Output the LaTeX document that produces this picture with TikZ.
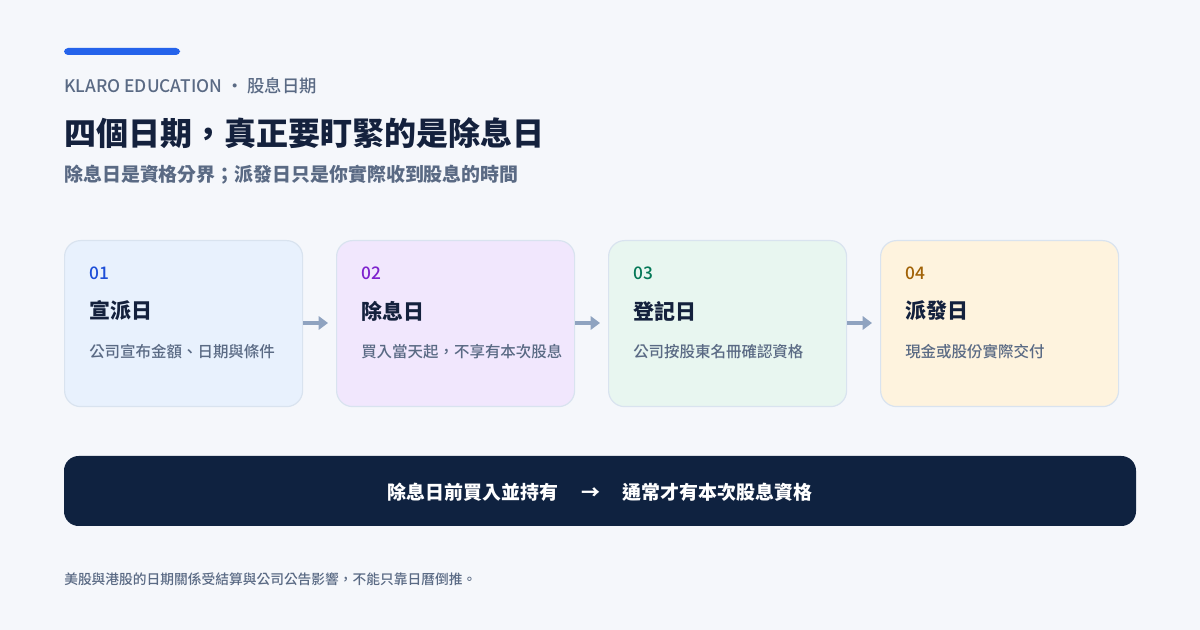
\documentclass[tikz,border=0pt]{standalone}
\usepackage{fontspec}
\setmainfont{Noto Sans CJK TC}
\newfontfamily\medfont{Noto Sans CJK TC Medium}
\definecolor{bg}{HTML}{F5F7FB}
\definecolor{navy}{HTML}{0F2240}
\definecolor{ink}{HTML}{14213D}
\definecolor{muted}{HTML}{5A6A84}
\definecolor{accent}{HTML}{2563EB}
\definecolor{arr}{HTML}{8FA3C0}
\definecolor{bd}{HTML}{D9E3EF}
\definecolor{fa}{HTML}{E8F1FD}\definecolor{fb}{HTML}{F1E7FD}\definecolor{fc}{HTML}{E8F6F0}\definecolor{fd}{HTML}{FEF3DE}
\definecolor{na}{HTML}{1D4ED8}\definecolor{nb}{HTML}{7E22CE}\definecolor{nc}{HTML}{047857}\definecolor{nd}{HTML}{A16207}
\usetikzlibrary{arrows.meta}
\tikzset{
 card/.style={draw=bd, line width=0.9pt, rounded corners=12pt, minimum width=178.5pt, minimum height=124.5pt, inner sep=0pt, anchor=north west},
 txt/.style={anchor=west, inner sep=0pt},
 flow/.style={draw=arr, line width=3pt, -{Triangle[length=7pt,width=10pt]}},
}
\begin{document}
\begin{tikzpicture}[x=0.75pt,y=-0.75pt]
\fill[bg] (0,0) rectangle (1200,630);
\useasboundingbox (0,0) rectangle (1200,630);
\fill[accent, rounded corners=3pt] (64,48) rectangle (180,55);
\node[txt, text=muted, font=\fontsize{13}{15}\medfont] (brand) at (64,86) {KLARO EDUCATION · 股息日期};
\node[txt, text=ink, font=\fontsize{24}{28}\bfseries\selectfont] (title) at (64,133) {四個日期，真正要盯緊的是除息日};
\node[txt, text=muted, font=\fontsize{14.2}{17}\bfseries\selectfont] (sub) at (64,175) {除息日是資格分界；派發日只是你實際收到股息的時間};
\foreach \i/\f/\n/\num/\t/\d in {0/fa/na/01/宣派日/公司宣布金額、日期與條件,1/fb/nb/02/除息日/買入當天起，不享有本次股息,2/fc/nc/03/登記日/公司按股東名冊確認資格,3/fd/nd/04/派發日/現金或股份實際交付}{
  \node[card, fill=\f] (c\i) at ({64+272*\i},240) {};
  \node[txt, text=\n, font=\fontsize{13}{15}\medfont] (n\i) at ({89+272*\i},273) {\num};
  \node[txt, text=ink, font=\fontsize{15.7}{18}\bfseries\selectfont] (t\i) at ({89+272*\i},311) {\t};
  \node[txt, text=muted, font=\fontsize{11.6}{13}\medfont] (d\i) at ({89+272*\i},352) {\d};
}
\foreach \a/\b in {0/1,1/2,2/3}{
  \draw[flow] ([yshift=-0.75pt*83]c\a.north east) -- ([yshift=-0.75pt*83,xshift=-6pt]c\b.north west);
}
\fill[navy, rounded corners=11pt] (64,456) rectangle (1136,526);
\node[text=white, font=\fontsize{14.2}{17}\bfseries\selectfont, inner sep=0pt] (banner) at (600,492) {除息日前買入並持有\hspace{1.2em}→\hspace{1.2em}通常才有本次股息資格};
\node[txt, text=muted, font=\fontsize{10.3}{12}\medfont] (foot) at (64,579) {美股與港股的日期關係受結算與公司公告影響，不能只靠日曆倒推。};
\end{tikzpicture}
\end{document}
